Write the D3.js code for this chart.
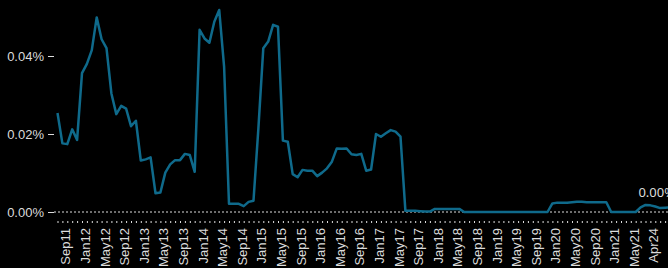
<!DOCTYPE html>
<html>
<head>
<meta charset="utf-8">
<script src="https://cdn.jsdelivr.net/npm/d3@7"></script>
<style>
    body { margin: 0; background: #000; }
    svg { display: block; font-family: "Noto Sans", sans-serif; }
</style>
</head>
<body>
<svg id="chart" width="668" height="268"></svg>
<script>
// monthly categories (the series jumps from Aug21 to Apr24)
const months = [
    "Sep11", "Oct11", "Nov11", "Dec11",
    "Jan12", "Feb12", "Mar12", "Apr12", "May12", "Jun12", "Jul12", "Aug12", "Sep12", "Oct12", "Nov12", "Dec12",
    "Jan13", "Feb13", "Mar13", "Apr13", "May13", "Jun13", "Jul13", "Aug13", "Sep13", "Oct13", "Nov13", "Dec13",
    "Jan14", "Feb14", "Mar14", "Apr14", "May14", "Jun14", "Jul14", "Aug14", "Sep14", "Oct14", "Nov14", "Dec14",
    "Jan15", "Feb15", "Mar15", "Apr15", "May15", "Jun15", "Jul15", "Aug15", "Sep15", "Oct15", "Nov15", "Dec15",
    "Jan16", "Feb16", "Mar16", "Apr16", "May16", "Jun16", "Jul16", "Aug16", "Sep16", "Oct16", "Nov16", "Dec16",
    "Jan17", "Feb17", "Mar17", "Apr17", "May17", "Jun17", "Jul17", "Aug17", "Sep17", "Oct17", "Nov17", "Dec17",
    "Jan18", "Feb18", "Mar18", "Apr18", "May18", "Jun18", "Jul18", "Aug18", "Sep18", "Oct18", "Nov18", "Dec18",
    "Jan19", "Feb19", "Mar19", "Apr19", "May19", "Jun19", "Jul19", "Aug19", "Sep19", "Oct19", "Nov19", "Dec19",
    "Jan20", "Feb20", "Mar20", "Apr20", "May20", "Jun20", "Jul20", "Aug20", "Sep20", "Oct20", "Nov20", "Dec20",
    "Jan21", "Feb21", "Mar21", "Apr21", "May21", "Jun21", "Jul21", "Aug21",
    "Apr24", "May24", "Jun24", "Jul24", "Aug24", "Sep24"
];

// share in percent, one per month
const shares = [
    0.0254, 0.0176, 0.0174, 0.0212,
    0.0185, 0.0356, 0.0380, 0.0415, 0.0499, 0.0443, 0.0420, 0.0304, 0.0251, 0.0272, 0.0265, 0.0220,
    0.0234, 0.0132, 0.0135, 0.0140, 0.0048, 0.0050, 0.0101, 0.0122, 0.0133, 0.0133, 0.0149, 0.0146,
    0.0103, 0.0467, 0.0445, 0.0434, 0.0488, 0.0518, 0.0373, 0.0021, 0.0021, 0.0021, 0.0015, 0.0026,
    0.0029, 0.0215, 0.0420, 0.0437, 0.0480, 0.0475, 0.0183, 0.0180, 0.0097, 0.0089, 0.0108, 0.0106,
    0.0106, 0.0092, 0.0101, 0.0112, 0.0129, 0.0163, 0.0162, 0.0163, 0.0148, 0.0146, 0.0149, 0.0106,
    0.0109, 0.0200, 0.0193, 0.0202, 0.0210, 0.0206, 0.0193, 0.0003, 0.0003, 0.0003, 0.0002, 0.0001,
    0.0001, 0.0008, 0.0008, 0.0008, 0.0008, 0.0008, 0.0008, 0, 0, 0, 0, 0,
    0, 0, 0, 0, 0, 0, 0, 0, 0, 0, 0, 0,
    0, 0.0022, 0.0024, 0.0024, 0.0024, 0.0025, 0.0026, 0.0026, 0.0025, 0.0025, 0.0025, 0.0025,
    0.0025, 0, 0, 0, 0, 0, 0, 0.0012,
    0.0018, 0.0017, 0.0014, 0.0010, 0.0011, 0.0012
];

const xTickLabels = [
    "Sep11", "Jan12", "May12", "Sep12", "Jan13", "May13", "Sep13", "Jan14", "May14", "Sep14",
    "Jan15", "May15", "Sep15", "Jan16", "May16", "Sep16", "Jan17", "May17", "Sep17", "Jan18",
    "May18", "Sep18", "Jan19", "May19", "Sep19", "Jan20", "May20", "Sep20", "Jan21", "May21", "Apr24"
];
const yTicks = [0, 0.02, 0.04];

const data = months.map((m, i) => ({month: m, value: shares[i]}));

const svg = d3.select("#chart");
const textColor = "#dcdcdc";

let x = d3.scalePoint()
    .domain(months)
    .range([57.5, 670]);

let y = d3.scaleLinear()
    .domain([0, 0.04])
    .range([212, 56]);

// y axis
let yAxis = svg.append("g")
    .attr("transform", "translate(54,0)")
    .call(d3.axisLeft(y).tickValues(yTicks).tickSize(6).tickPadding(4)
        .tickFormat(d => d.toFixed(2) + "%"));
yAxis.select(".domain").remove();
yAxis.selectAll("line").attr("stroke", textColor);
yAxis.selectAll("text")
    .attr("fill", textColor)
    .style("font-size", "13px");

// dotted baseline
svg.append("line")
    .attr("x1", 54)
    .attr("x2", 668)
    .attr("y1", y(0))
    .attr("y2", y(0))
    .attr("stroke", textColor)
    .attr("stroke-width", 1)
    .attr("stroke-dasharray", "2,2");

// x axis: a small tick for every month, labels every fourth
let xAxis = svg.append("g")
    .attr("transform", "translate(0,221)")
    .call(d3.axisBottom(x).tickSize(2).tickFormat(d => xTickLabels.includes(d) ? d : ""));
xAxis.select(".domain").remove();
xAxis.selectAll("line").attr("stroke", textColor);
xAxis.selectAll("text")
    .attr("fill", textColor)
    .style("font-size", "13px")
    .attr("text-anchor", "end")
    .attr("transform", "rotate(-90)")
    .attr("x", -7)
    .attr("y", 0)
    .attr("dy", "0.95em");

// the series
let line = d3.line()
    .x(d => x(d.month))
    .y(d => y(d.value));

svg.append("path")
    .datum(data)
    .attr("fill", "none")
    .attr("stroke", "#0f6a8b")
    .attr("stroke-width", 2.5)
    .attr("stroke-linejoin", "round")
    .attr("d", line);

// last value label
let last = data[data.length - 1];
svg.append("text")
    .attr("x", x(last.month) + 5)
    .attr("y", y(last.value) - 10)
    .attr("text-anchor", "end")
    .attr("fill", textColor)
    .style("font-size", "13px")
    .text(last.value.toFixed(2) + "%");
</script>
</body>
</html>
